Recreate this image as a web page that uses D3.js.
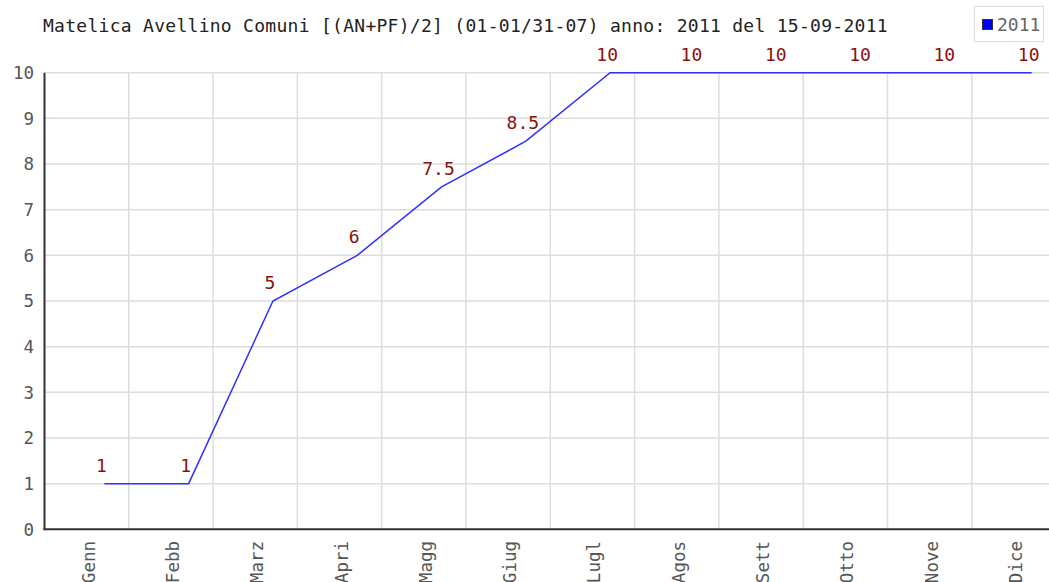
<!DOCTYPE html>
<html><head><meta charset="utf-8">
<script src="https://cdn.jsdelivr.net/npm/d3@7"></script>
<style>body{margin:0;background:#fff}svg{display:block}</style>
</head><body>
<svg id="c" width="1049" height="582"></svg>
<script>
const months = ["Genn","Febb","Marz","Apri","Magg","Giug","Lugl","Agos","Sett","Otto","Nove","Dice"];
const values2011 = [1,1,5,6,7.5,8.5,10,10,10,10,10,10];
const valueLabels = ["1","1","5","6","7.5","8.5","10","10","10","10","10","10"];
const yTicks = [0,1,2,3,4,5,6,7,8,9,10];
const title = "Matelica Avellino Comuni [(AN+PF)/2] (01-01/31-07) anno: 2011 del 15-09-2011";
const seriesName = "2011";

const W = 1049, H = 582;
const font = "'DejaVu Sans Mono', monospace";
const svg = d3.select("#c");
const plotLeft = 44.5, plotBottom = 529.3, plotTop = 72.7;
const x = d3.scaleBand().domain(months).range([plotLeft, plotLeft + 84.3*12]).padding(0);
const bw = x.bandwidth();
const px = m => x(m) + bw*0.71;
const y = d3.scaleLinear().domain([0,10]).range([plotBottom, plotTop]);

// horizontal grid
svg.append("g").selectAll("line").data(yTicks.filter(d=>d>0)).join("line")
  .attr("x1", plotLeft).attr("x2", W).attr("y1", d=>y(d)).attr("y2", d=>y(d))
  .attr("stroke", "#dddddd").attr("stroke-width", 1.5);
// vertical grid
svg.append("g").selectAll("line").data(months.slice(0,11)).join("line")
  .attr("x1", m=>x(m)+bw).attr("x2", m=>x(m)+bw).attr("y1", plotTop).attr("y2", plotBottom)
  .attr("stroke", "#dddddd").attr("stroke-width", 1.5);

// axes
svg.append("line").attr("x1", plotLeft).attr("x2", plotLeft).attr("y1", plotTop).attr("y2", plotBottom+1)
  .attr("stroke", "#333").attr("stroke-width", 2);
svg.append("line").attr("x1", plotLeft-1).attr("x2", W).attr("y1", plotBottom).attr("y2", plotBottom)
  .attr("stroke", "#333").attr("stroke-width", 2);

// y tick labels
svg.append("g").selectAll("text").data(yTicks).join("text")
  .attr("x", 34).attr("y", d=>y(d)).attr("dy", "0.36em")
  .attr("text-anchor", "end").attr("font-family", font).attr("font-size", 17.5)
  .attr("fill", "#555").text(d=>d);

// x labels rotated
svg.append("g").selectAll("text").data(months).join("text")
  .attr("transform", m=>`translate(${x(m)+bw/2+2},541) rotate(-90)`)
  .attr("text-anchor", "end").attr("dominant-baseline", "central")
  .attr("font-family", font).attr("font-size", 17.5).attr("fill", "#555").text(m=>m);

// line
const line = d3.line().x((d,i)=>px(months[i])).y(d=>y(d));
svg.append("path").datum(values2011).attr("d", line)
  .attr("fill", "none").attr("stroke", "#3030ff").attr("stroke-width", 1.5);

// value labels
svg.append("g").selectAll("text").data(values2011).join("text")
  .attr("x", (d,i)=>px(months[i])-3).attr("y", d=>y(d)-12)
  .attr("text-anchor", "middle").attr("font-family", font).attr("font-size", 18)
  .attr("fill", "#8b1010").text((d,i)=>valueLabels[i]);

// title
svg.append("text").attr("x", 43).attr("y", 32).attr("font-family", font).attr("font-size", 18)
  .attr("letter-spacing", 0.28).attr("fill", "#222").text(title);

// legend
svg.append("rect").attr("x", 974.5).attr("y", 6.5).attr("width", 69).attr("height", 35)
  .attr("fill", "#fff").attr("stroke", "#dddddd").attr("stroke-width", 1);
svg.append("rect").attr("x", 982.5).attr("y", 19.5).attr("width", 10).attr("height", 10)
  .attr("fill", "#0000ee").attr("stroke", "#333").attr("stroke-width", 1);
svg.append("text").attr("x", 997).attr("y", 31).attr("font-family", font).attr("font-size", 18)
  .attr("fill", "#666").text(seriesName);
</script>
</body></html>
